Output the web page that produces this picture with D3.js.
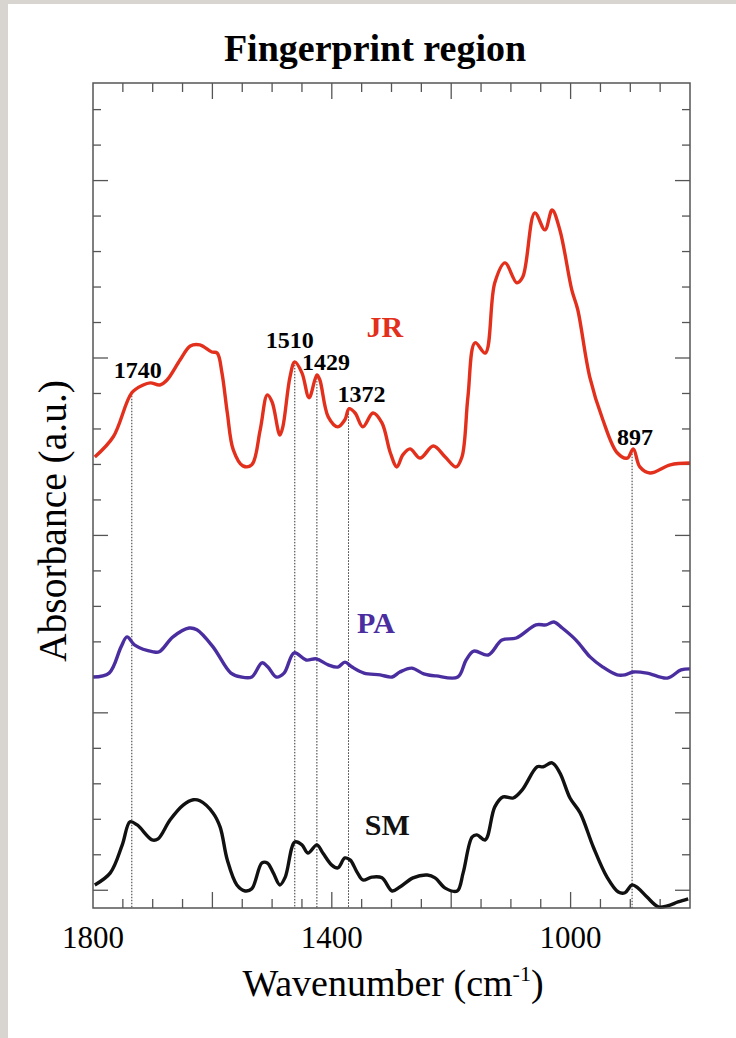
<!DOCTYPE html>
<html>
<head>
<meta charset="utf-8">
<script src="https://cdn.jsdelivr.net/npm/d3@7"></script>
<style>
  html, body { margin: 0; padding: 0; background: #d8d5d0; }
  svg { display: block; }
</style>
</head>
<body>
<svg id="chart" width="736" height="1038"></svg>
<script>
// wavenumber (cm-1) / absorbance (a.u., offset per trace)
const jrWn = [1797, 1766, 1735, 1716, 1704, 1688, 1676, 1654, 1637, 1621, 1601, 1592, 1584, 1575, 1565, 1549, 1534, 1520, 1508, 1500, 1487, 1482, 1470, 1462, 1450, 1438, 1425, 1420, 1406, 1390, 1378, 1371, 1361, 1348, 1331, 1316, 1302, 1291, 1281, 1269, 1252, 1230, 1210, 1192, 1182, 1172, 1160, 1143, 1127, 1110, 1090, 1080, 1060, 1043, 1031, 1018, 998, 988, 968, 946, 922, 905, 895, 884, 867, 833, 800]
const jrAbs = [12.21, 12.78, 14.02, 14.24, 14.30, 14.24, 14.38, 14.95, 15.34, 15.37, 15.17, 15.14, 14.58, 13.45, 12.41, 11.96, 11.99, 12.97, 13.96, 13.76, 12.83, 13.06, 14.47, 14.89, 14.58, 13.88, 14.52, 14.38, 13.34, 13.06, 13.26, 13.57, 13.45, 13.06, 13.45, 13.17, 12.33, 11.93, 12.27, 12.44, 12.18, 12.52, 12.21, 11.93, 12.21, 13.90, 15.43, 15.14, 17.12, 17.68, 17.12, 17.29, 19.09, 18.61, 19.17, 18.61, 16.92, 16.36, 14.47, 13.26, 12.33, 12.18, 12.44, 11.93, 11.76, 11.99, 12.04]

const paWn = [1800, 1773, 1753, 1743, 1730, 1699, 1689, 1666, 1639, 1626, 1599, 1569, 1552, 1534, 1517, 1507, 1493, 1480, 1463, 1443, 1426, 1406, 1390, 1378, 1366, 1346, 1319, 1299, 1286, 1266, 1246, 1225, 1189, 1175, 1162, 1138, 1115, 1091, 1058, 1041, 1028, 1014, 991, 967, 946, 922, 909, 895, 872, 838, 815, 800]
const paAbs = [6.01, 6.12, 6.86, 7.14, 6.91, 6.72, 6.72, 7.14, 7.39, 7.34, 6.86, 6.12, 6.01, 6.01, 6.41, 6.29, 6.01, 6.12, 6.69, 6.49, 6.52, 6.35, 6.29, 6.43, 6.29, 6.12, 6.07, 6.01, 6.15, 6.26, 6.10, 6.04, 6.01, 6.49, 6.74, 6.63, 7.05, 7.11, 7.48, 7.48, 7.56, 7.39, 7.05, 6.57, 6.29, 6.07, 6.07, 6.15, 6.12, 5.98, 6.21, 6.24]

const smWn = [1797, 1771, 1751, 1738, 1726, 1701, 1691, 1671, 1649, 1632, 1621, 1599, 1587, 1575, 1559, 1545, 1534, 1517, 1508, 1498, 1487, 1478, 1462, 1450, 1440, 1425, 1415, 1400, 1390, 1378, 1369, 1358, 1348, 1333, 1316, 1299, 1286, 1264, 1240, 1227, 1210, 1190, 1180, 1165, 1157, 1143, 1127, 1113, 1096, 1081, 1056, 1046, 1031, 1018, 1001, 984, 962, 939, 920, 909, 897, 887, 872, 853, 838, 820, 803]
const smAbs = [0.15, 0.49, 1.28, 1.93, 1.84, 1.42, 1.45, 1.98, 2.40, 2.55, 2.52, 2.18, 1.78, 0.85, 0.15, -0.02, 0.04, 0.77, 0.77, 0.49, 0.15, 0.37, 1.36, 1.28, 1.05, 1.28, 1.05, 0.71, 0.63, 0.91, 0.85, 0.52, 0.29, 0.37, 0.35, -0.02, 0.09, 0.35, 0.43, 0.35, 0.06, -0.02, 0.49, 1.50, 1.56, 1.42, 2.35, 2.63, 2.60, 2.83, 3.48, 3.48, 3.59, 3.31, 2.60, 2.18, 1.22, 0.37, -0.05, -0.07, 0.15, 0.06, -0.19, -0.47, -0.44, -0.33, -0.24]

// marked bands: where the dotted line sits, and the text written over it
const peakWn = [1735, 1462, 1425, 1372, 897]
const peakLabels = ["1740", "1510", "1429", "1372", "897"]

const seriesNames = ["JR", "PA", "SM"]
const seriesColors = ["#e2301d", "#4a2ea0", "#111111"]
// where each trace name is written (wavenumber, absorbance)
const nameWn = [1311, 1326, 1307]
const nameAbs = [15.6, 7.25, 1.56]

const xTickLabels = [1800, 1400, 1000]

const W = 736, H = 1038
const mLeft = 93, mRight = 690, mTop = 83, mBottom = 908

const svg = d3.select('#chart')
svg.append('rect').attr('x', 8).attr('y', 4).attr('width', W - 8).attr('height', H - 4).attr('fill', '#ffffff')

const x = d3.scaleLinear().domain([1800, 800]).range([mLeft, mRight])
const y = d3.scaleLinear().domain([-0.5, 22.75]).range([mBottom, mTop])

const serif = '"Liberation Serif", "Times New Roman", serif'

// title
svg.append('text')
    .attr('x', 375).attr('y', 61)
    .attr('text-anchor', 'middle')
    .attr('font-family', serif).attr('font-weight', 'bold').attr('font-size', 38)
    .text('Fingerprint region')

// ticks (inside, on all four sides)
const xTicks = d3.range(1800, 799, -50)
const yTicks = d3.range(0, 23)
const ticks = svg.append('g').attr('stroke', '#555').attr('stroke-width', 1.3)
xTicks.forEach(t => {
    if (t === 1800 || t === 800) return
    let len = t % 200 === 0 ? 16 : 9
    ticks.append('line').attr('x1', x(t)).attr('x2', x(t)).attr('y1', mBottom).attr('y2', mBottom - len)
    ticks.append('line').attr('x1', x(t)).attr('x2', x(t)).attr('y1', mTop).attr('y2', mTop + len)
})
yTicks.forEach(t => {
    let len = t % 5 === 0 ? 15 : 8
    ticks.append('line').attr('x1', mLeft).attr('x2', mLeft + len).attr('y1', y(t)).attr('y2', y(t))
    ticks.append('line').attr('x1', mRight).attr('x2', mRight - len).attr('y1', y(t)).attr('y2', y(t))
})

// x tick labels
svg.append('g').selectAll('text')
    .data(xTickLabels)
    .join('text')
    .attr('x', d => x(d)).attr('y', 948)
    .attr('text-anchor', 'middle')
    .attr('font-family', serif).attr('font-size', 31)
    .text(d => d)

// axis titles
const xt = svg.append('text')
    .attr('x', 393).attr('y', 996)
    .attr('text-anchor', 'middle')
    .attr('font-family', serif).attr('font-size', 38)
xt.append('tspan').text('Wavenumber (cm')
xt.append('tspan').attr('font-size', 22).attr('dy', -15).text('-1')
xt.append('tspan').attr('dy', 15).text(')')

svg.append('text')
    .attr('transform', 'translate(66,521) rotate(-90)')
    .attr('text-anchor', 'middle')
    .attr('font-family', serif).attr('font-size', 39.5)
    .text('Absorbance (a.u.)')

// dotted guide lines from the JR trace down to the axis
function jrAt(wn) {
    // JR wavenumbers are descending
    let i = jrWn.findIndex(w => w <= wn)
    if (i <= 0) return jrAbs[Math.max(i, 0)]
    let t = (jrWn[i - 1] - wn) / (jrWn[i - 1] - jrWn[i])
    return jrAbs[i - 1] + t * (jrAbs[i] - jrAbs[i - 1])
}
svg.append('g').selectAll('line')
    .data(peakWn)
    .join('line')
    .attr('x1', d => x(d)).attr('x2', d => x(d))
    .attr('y1', d => y(jrAt(d))).attr('y2', mBottom)
    .attr('stroke', '#333').attr('stroke-width', 1)
    .attr('stroke-dasharray', '1.5,1.5')

// traces
const line = d3.line()
    .x(d => x(d[0]))
    .y(d => y(d[1]))
    .curve(d3.curveCatmullRom.alpha(0.5))

const traces = [d3.zip(jrWn, jrAbs), d3.zip(paWn, paAbs), d3.zip(smWn, smAbs)]
svg.append('g').selectAll('path')
    .data(traces)
    .join('path')
    .attr('d', line)
    .attr('fill', 'none')
    .attr('stroke', (d, i) => seriesColors[i])
    .attr('stroke-width', 3.4)
    .attr('stroke-linejoin', 'round')

// peak labels
const labelShift = [[6, -15], [-5, -14], [9, -5], [13, -8], [3, -6]]
svg.append('g').selectAll('text')
    .data(peakWn)
    .join('text')
    .attr('x', (d, i) => x(d) + labelShift[i][0])
    .attr('y', (d, i) => y(jrAt(d)) + labelShift[i][1])
    .attr('text-anchor', 'middle')
    .attr('font-family', serif).attr('font-weight', 'bold').attr('font-size', 24)
    .text((d, i) => peakLabels[i])

// trace names
svg.append('g').selectAll('text')
    .data(seriesNames)
    .join('text')
    .attr('x', (d, i) => x(nameWn[i]))
    .attr('y', (d, i) => y(nameAbs[i]))
    .attr('text-anchor', 'middle')
    .attr('font-family', serif).attr('font-weight', 'bold').attr('font-size', 30)
    .attr('fill', (d, i) => seriesColors[i])
    .text(d => d)

// frame
svg.append('rect')
    .attr('x', mLeft).attr('y', mTop)
    .attr('width', mRight - mLeft).attr('height', mBottom - mTop)
    .attr('fill', 'none').attr('stroke', '#555').attr('stroke-width', 1.5)
</script>
</body>
</html>
